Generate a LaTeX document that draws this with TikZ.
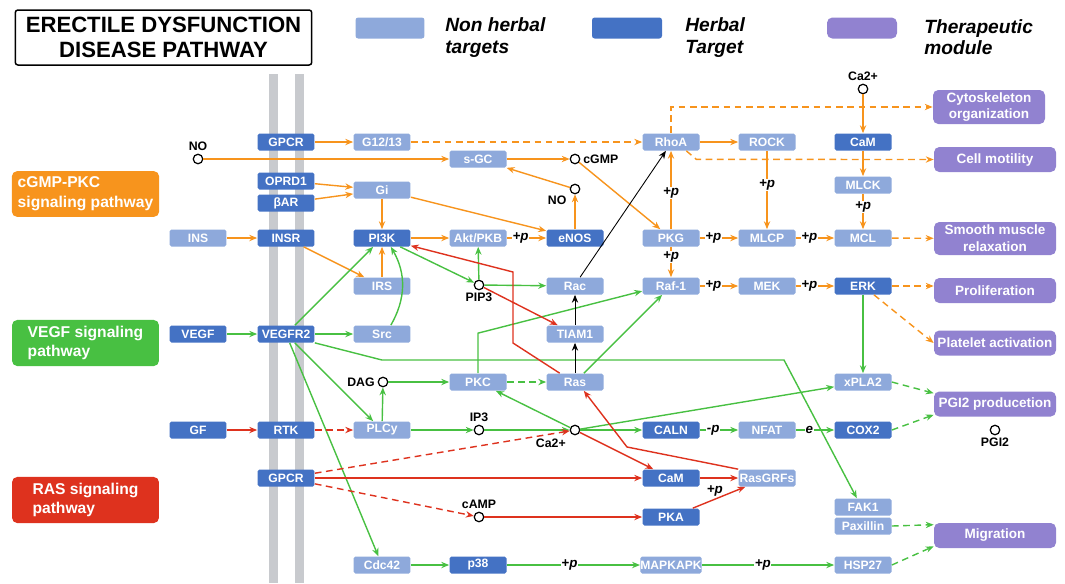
\documentclass[tikz,border=0pt]{standalone}
\usepackage{fontspec}
\setmainfont{Liberation Sans}
\usepackage{tikz}
\usetikzlibrary{arrows.meta,positioning,shapes,calc}

\definecolor{nhblue}{RGB}{142,169,219}
\definecolor{hblue}{RGB}{68,114,196}
\definecolor{tmpurple}{RGB}{145,130,208}
\definecolor{porange}{RGB}{247,148,29}
\definecolor{pgreen}{RGB}{72,192,66}
\definecolor{pred}{RGB}{222,50,30}
\definecolor{mgray}{RGB}{200,202,206}

\newcommand{\boxfont}{\fontsize{6.9}{8}\selectfont\bfseries}
\newcommand{\tmfont}{\fontsize{7.7}{9.6}\selectfont\bfseries}
\newcommand{\lblfont}{\fontsize{7}{8}\selectfont\bfseries}
\newcommand{\ppfont}{\fontsize{7.6}{8}\selectfont\bfseries\itshape}
\newcommand{\legfont}{\fontsize{10.9}{12}\selectfont\bfseries\itshape}

\begin{document}
\begin{tikzpicture}[
  x=0.02cm,y=-0.02cm,
  nh/.style={fill=nhblue,text=white,rounded corners=1pt,minimum width=1.14cm,minimum height=0.34cm,inner sep=0pt,font=\boxfont},
  hb/.style={nh,fill=hblue},
  tm/.style={fill=tmpurple,text=white,rounded corners=3pt,minimum width=2.44cm,minimum height=0.5cm,inner sep=1pt,align=center,font=\tmfont},
  pw/.style={text=white,rounded corners=3pt,minimum width=2.94cm,minimum height=0.84cm,align=left,font=\fontsize{8.9}{11.3}\selectfont\bfseries},
  circ/.style={circle,draw,line width=0.7pt,fill=white,minimum size=0.19cm,inner sep=0pt},
  lbl/.style={font=\lblfont,inner sep=1.5pt},
  pp/.style={font=\ppfont,text=black,fill=white,inner sep=0.4pt},
  oarr/.style={->,porange,line width=0.8pt},
  garr/.style={->,pgreen,line width=0.8pt},
  rarr/.style={->,pred,line width=0.8pt},
  karr/.style={->,black,line width=0.5pt},
  dsh/.style={dash pattern=on 3.8pt off 2.6pt},
  >={Stealth[length=4.5pt,width=3.6pt]}
]
\useasboundingbox (0,0) rectangle (1065,583);
\fill[mgray] (269,74) rectangle (278,583);
\fill[mgray] (295,74) rectangle (304,583);

\node[draw,line width=0.85pt,rounded corners=1.5pt,minimum width=5.93cm,minimum height=1.1cm,align=center,font=\fontsize{12.6}{14.2}\selectfont\bfseries] (title) at (163.5,37.5) {ERECTILE DYSFUNCTION\\DISEASE PATHWAY};
\node[nh,minimum width=1.38cm,minimum height=0.42cm,rounded corners=1.5pt] (lnh) at (390,28) {};
\node[anchor=west,align=left,inner sep=0pt,font=\legfont] (lnht) at (445,37.5) {Non herbal\\targets};
\node[hb,minimum width=1.4cm,minimum height=0.42cm,rounded corners=1.5pt] (lhb) at (627,28) {};
\node[anchor=west,align=left,inner sep=0pt,font=\legfont] (lhbt) at (685,37.5) {Herbal\\Target};
\node[tm,minimum width=1.4cm,minimum height=0.42cm] (ltm) at (862,28) {};
\node[anchor=west,align=left,inner sep=0pt,font=\legfont] (ltmt) at (924,37.5) {Therapeutic\\module};

\node[pw,fill=porange] (cgmp) at (85.5,194) {cGMP-PKC\\signaling pathway};
\node[pw,fill=pgreen] (vegf) at (85.5,343) {VEGF signaling\\pathway};
\node[pw,fill=pred] (ras) at (85.5,500) {RAS signaling\\pathway};

\node[hb] (GPCRa) at (286,142) {GPCR};
\node[nh] (G1213) at (382,142) {G12/13};
\node[nh] (RhoA) at (671,142) {RhoA};
\node[nh] (ROCK) at (767,142) {ROCK};
\node[hb] (CaMa) at (863,142) {CaM};
\node[nh] (sGC) at (478,159) {s-GC};
\node[hb] (OPRD1) at (286,181) {OPRD1};
\node[hb] (bAR) at (286,203) {βAR};
\node[nh] (Gi) at (382,190) {Gi};
\node[nh] (MLCK) at (863,185) {MLCK};
\node[nh] (INS) at (198,238) {INS};
\node[hb] (INSR) at (286,238) {INSR};
\node[hb] (PI3K) at (382,238) {PI3K};
\node[nh] (Akt) at (478,238) {Akt/PKB};
\node[hb] (eNOS) at (575,238) {eNOS};
\node[nh] (PKG) at (671,238) {PKG};
\node[nh] (MLCP) at (767,238) {MLCP};
\node[nh] (MCL) at (863,238) {MCL};
\node[nh] (IRS) at (382,286) {IRS};
\node[nh] (Rac) at (575,286) {Rac};
\node[nh] (Raf) at (671,286) {Raf-1};
\node[nh] (MEK) at (767,286) {MEK};
\node[hb] (ERK) at (863,286) {ERK};
\node[hb] (VEGF) at (198,334) {VEGF};
\node[hb] (VEGFR2) at (286,334) {VEGFR2};
\node[nh] (Src) at (382,334) {Src};
\node[nh] (TIAM1) at (575,334) {TIAM1};
\node[nh] (PKC) at (478,382) {PKC};
\node[nh] (Ras) at (575,382) {Ras};
\node[nh] (xPLA2) at (863,382) {xPLA2};
\node[hb] (GF) at (198,430) {GF};
\node[hb] (RTK) at (286,430) {RTK};
\node[nh] (PLCy) at (382,430) {PLCy};
\node[hb] (CALN) at (671,430) {CALN};
\node[nh] (NFAT) at (767,430) {NFAT};
\node[hb] (COX2) at (863,430) {COX2};
\node[hb] (GPCRb) at (286,478) {GPCR};
\node[hb] (CaMb) at (671,478) {CaM};
\node[nh] (RasGRFs) at (767,478) {RasGRFs};
\node[hb] (PKA) at (671,517) {PKA};
\node[nh] (FAK1) at (863,507) {FAK1};
\node[nh] (Pax) at (863,526) {Paxillin};
\node[nh] (Cdc42) at (382,565) {Cdc42};
\node[hb] (p38) at (478,565) {p38};
\node[nh] (MAPKAPK) at (671,565) {MAPKAPK};
\node[nh] (HSP27) at (863,565) {HSP27};

\node[tm,minimum width=2.24cm,minimum height=0.68cm] (Cyto) at (989,107) {Cytoskeleton\\organization};
\node[tm] (Motil) at (995,159.5) {Cell motility};
\node[tm,minimum height=0.66cm] (SMR) at (995,238.5) {Smooth muscle\\relaxation};
\node[tm] (Prolif) at (995,290.5) {Proliferation};
\node[tm] (Plat) at (995,343) {Platelet activation};
\node[tm] (PGIp) at (995,404) {PGI2 producetion};
\node[tm] (Migr) at (995,535.5) {Migration};

\node[circ,label={[lbl]above:NO}] (NOa) at (198,159) {};
\node[circ,label={[lbl]right:cGMP}] (cGMP) at (575,159) {};
\node[circ,label={[lbl,label distance=1pt]217:NO}] (NOb) at (575,189) {};
\node[circ,label={[lbl]above:Ca2+}] (Caa) at (863,89) {};
\node[circ,label={[lbl]below:PIP3}] (PIP3) at (479,285) {};
\node[circ,label={[lbl]left:DAG}] (DAG) at (383,382) {};
\node[circ,label={[lbl]above:IP3}] (IP3) at (479,430) {};
\node[circ,label={[lbl,label distance=2pt]below left:Ca2+}] (Cab) at (575,430) {};
\node[circ,label={[lbl]above:cAMP}] (cAMP) at (479,517) {};
\node[circ,label={[lbl]below:PGI2}] (PGI2) at (995,430) {};

\draw[oarr] (GPCRa) -- (G1213); \draw[oarr,dsh] (G1213) -- (RhoA);
\draw[oarr] (NOa) -- (sGC); \draw[oarr] (sGC) -- (cGMP); \draw[oarr] (cGMP) -- (PKG);
\draw[oarr] (eNOS) -- (NOb); \draw[oarr] (NOb) -- (sGC);
\draw[oarr] (OPRD1) -- (Gi); \draw[oarr] (bAR) -- (Gi);
\draw[oarr] (Gi) -- (PI3K); \draw[oarr] (Gi) -- (eNOS);
\draw[oarr] (INS) -- (INSR); \draw[oarr] (INSR) -- (IRS); \draw[oarr] (IRS) -- (PI3K);
\draw[oarr] (PI3K) -- (Akt);
\draw[oarr] (Akt) -- node[pp,pos=0.35]{+p} (eNOS);
\draw[oarr] (PKG) -- node[pp,pos=0.46]{+p} (RhoA);
\draw[oarr] (PKG) -- node[pp,pos=0.34]{+p} (Raf);
\draw[oarr] (RhoA) -- (ROCK);
\draw[oarr,dsh] (RhoA.north) |- (Cyto.west);
\draw[oarr,dsh] (RhoA.-30) -- ++(10,8.5) -- (Motil.west);
\draw[oarr] (ROCK) -- node[pp,pos=0.44]{+p} (MLCP);
\draw[oarr] (Caa) -- (CaMa); \draw[oarr] (CaMa) -- (MLCK);
\draw[oarr] (MLCK) -- node[pp,pos=0.38]{+p} (MCL);
\draw[oarr] (PKG) -- node[pp,pos=0.35]{+p} (MLCP);
\draw[oarr] (MLCP) -- node[pp,pos=0.35]{+p} (MCL);
\draw[oarr,dsh] (MCL) -- (SMR);
\draw[oarr] (Raf) -- node[pp,pos=0.35]{+p} (MEK);
\draw[oarr] (MEK) -- node[pp,pos=0.35]{+p} (ERK);
\draw[oarr,dsh] (ERK) -- (ERK -| Prolif.west);
\draw[oarr,dsh] (ERK) -- (Plat.west);

\draw[garr] (VEGF) -- (VEGFR2); \draw[garr] (VEGFR2) -- (Src);
\draw[garr] (VEGFR2) -- (PI3K);
\draw[garr] (Src.45) to[out=60,in=-60] (PI3K.-45);
\draw[garr] (PI3K) -- (PIP3); \draw[garr] (PIP3) -- (Akt); \draw[garr] (PIP3) -- (Rac);
\draw[garr] (VEGFR2) -- (PLCy); \draw[garr] (VEGFR2) -- (Cdc42);
\draw[garr] (VEGFR2.south east) -- (382,360) -- (784,360) -- (FAK1.125);
\draw[garr] (PLCy) -- (DAG); \draw[garr] (DAG) -- (PKC);
\draw[garr] (PLCy) -- (IP3); \draw[garr] (IP3) -- (Cab);
\draw[garr,dsh] (PKC) -- (Ras);
\draw[garr] (PKC.north) -- ++(0,-40) -- (Raf.190);
\draw[garr] (Ras.45) -- (Raf.-135);
\draw[garr] (Cab) -- (PKC); \draw[garr] (Cab) -- (CALN); \draw[garr] (Cab) -- (xPLA2);
\draw[garr] (CALN) -- node[pp,pos=0.35]{-p} (NFAT);
\draw[garr] (NFAT) -- node[pp,pos=0.35]{e} (COX2);
\draw[garr] (ERK) -- (xPLA2);
\draw[garr,dsh] (xPLA2.east) -- (PGIp.170); \draw[garr,dsh] (COX2.east) -- (PGIp.190);
\draw[garr] (Cdc42) -- (p38);
\draw[garr] (p38) -- node[pp,pos=0.47]{+p} (MAPKAPK);
\draw[garr] (MAPKAPK) -- node[pp,pos=0.46]{+p} (HSP27);
\draw[garr,dsh] (Pax.east) -- (Migr.170); \draw[garr,dsh] (HSP27.east) -- (Migr.190);

\draw[rarr] (GF) -- (RTK); \draw[rarr,dsh] (RTK) -- (PLCy);
\draw[rarr,dsh] (GPCRb) -- (Cab); \draw[rarr] (GPCRb) -- (CaMb);
\draw[rarr,dsh] (GPCRb) -- (cAMP); \draw[rarr] (cAMP) -- (PKA);
\draw[rarr] (CaMb) -- (RasGRFs);
\draw[rarr] (PKA) -- node[pos=0.42,above,font=\ppfont,text=black,inner sep=1pt]{+p} (RasGRFs);
\draw[rarr] (Cab) -- (CaMb);
\draw[rarr] (RasGRFs.north west) -- (627,447) -- (Ras.-45);
\draw[rarr] (PIP3) -- (TIAM1);
\draw[rarr] (Ras.150) -- (513,343) -- (513,272) -- (PI3K.-15);

\draw[karr] (Ras) -- (TIAM1); \draw[karr] (TIAM1) -- (Rac); \draw[karr] (Rac.60) -- (RhoA.-120);
\end{tikzpicture}
\end{document}
